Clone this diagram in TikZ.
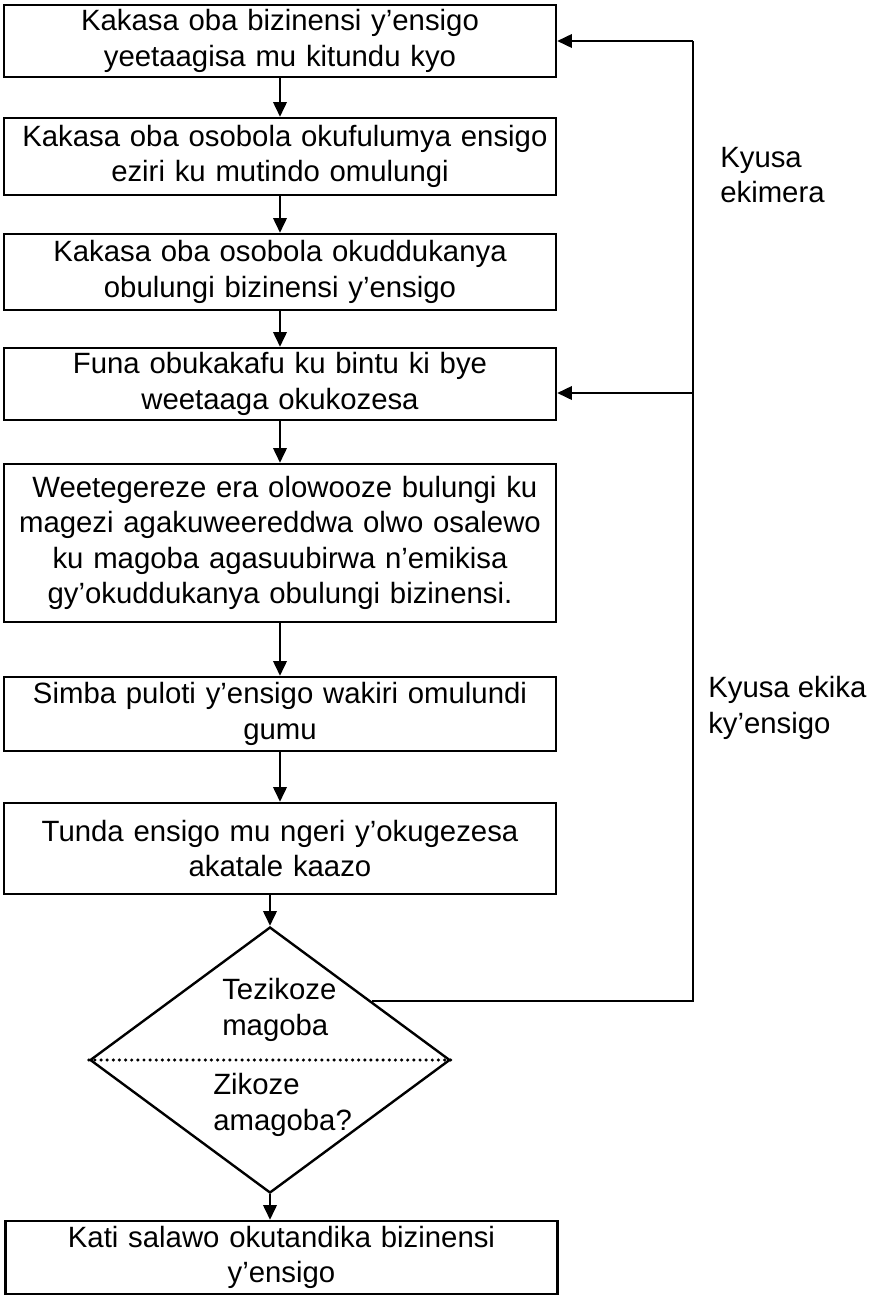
\documentclass[tikz,border=0pt]{standalone}
\usepackage{fontspec}
\setmainfont{Liberation Sans}
\usetikzlibrary{arrows.meta,shapes.geometric}
\begin{document}
\begin{tikzpicture}[x=0.75pt, y=-0.75pt]
	\tikzset{>={Triangle[length=11pt,width=10pt]}}
	\tikzset{stepbox/.style={draw, line width=1.8pt, minimum width=414pt, inner sep=0pt, text width=405pt, align=center, font=\fontsize{22}{26.5}\selectfont}}
	\tikzset{flow/.style={->, line width=1.8pt}}
	\tikzset{plain/.style={inner sep=0pt, anchor=west, align=left, font=\fontsize{22}{26.5}\selectfont}}
	\useasboundingbox (0,0) rectangle (871,1296);
	% steps
	\node[stepbox, minimum height=54pt] (b1) at (280,41) {Kakasa oba bizinensi y’ensigo\\yeetaagisa mu kitundu kyo};
	\node[stepbox, minimum height=57.75pt] (b2) at (280,156.5) {\ Kakasa oba osobola okufulumya ensigo\\eziri ku mutindo omulungi};
	\node[stepbox, minimum height=57pt] (b3) at (280,272) {Kakasa oba osobola okuddukanya\\obulungi bizinensi y’ensigo};
	\node[stepbox, minimum height=54pt] (b4) at (280,384) {Funa obukakafu ku bintu ki bye\\weetaaga okukozesa};
	\node[stepbox, minimum height=118.5pt] (b5) at (280,543) {\ Weetegereze era olowooze bulungi ku\\magezi agakuweereddwa olwo osalewo\\ku magoba agasuubirwa n’emikisa\\gy’okuddukanya obulungi bizinensi.};
	\node[stepbox, minimum height=55.5pt] (b6) at (280,714) {Simba puloti y’ensigo wakiri omulundi\\gumu};
	\node[stepbox, minimum height=68.25pt] (b7) at (280,848.5) {Tunda ensigo mu ngeri y’okugezesa\\akatale kaazo};
	\node[draw, diamond, line width=1.8pt, minimum width=270pt, minimum height=199.5pt, inner sep=0pt] (check) at (270,1060) {};
	\node[stepbox, minimum height=54.75pt] (b8) at (281.5,1257.5) {Kati salawo okutandika bizinensi\\y’ensigo};
	% decision texts
	\draw[line width=2.6pt, dash pattern=on 0pt off 4.6pt, line cap=round] (check.west) -- (check.east);
	\node[plain] (yes) at (222,1010) {Tezikoze\\magoba};
	\node[plain] (no) at (213,1105) {Zikoze\\amagoba?};
	% arrows
	\foreach \a/\b in {b1/b2,b2/b3,b3/b4,b4/b5,b5/b6,b6/b7}
		\draw[flow] (\a) -- (\b);
	\draw[flow] (b7.south -| check.north) -- (check.north);
	\draw[flow] (check.south) -- (check.south |- b8.north);
	% going back
	\coordinate (turn) at (693,41);
	\draw[line width=1.8pt] (check.30) -| (turn);
	\draw[flow] (turn) -- (b1.east);
	\draw[flow] ([yshift=-6.75pt]b4.east -| turn) -- ([yshift=-6.75pt]b4.east);
	\node[plain] (crop) at (720,175) {Kyusa\\ekimera};
	\node[plain] (kind) at (708,708) {Kyusa ekika\\ky’ensigo};
\end{tikzpicture}
\end{document}
